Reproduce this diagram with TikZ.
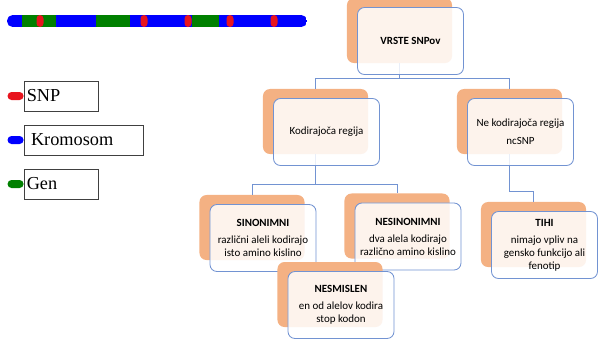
\documentclass[tikz,border=0pt]{standalone}
\usepackage{fontspec}
\setmainfont{Carlito}
\newfontfamily\legendfont{Liberation Serif}
\usetikzlibrary{positioning}

\definecolor{plateorange}{RGB}{244,177,131}
\definecolor{frameblue}{RGB}{114,147,210}
\definecolor{chromblue}{RGB}{0,0,255}
\definecolor{genegreen}{RGB}{0,128,0}
\definecolor{snpred}{RGB}{232,20,30}

\tikzset{
  plate/.style={fill=plateorange, rounded corners=5pt, minimum width=2.625cm, minimum height=1.625cm, inner sep=0pt},
  card/.style={draw=frameblue, line width=0.6pt, fill=white, fill opacity=0.85, text opacity=1, rounded corners=5pt,
    minimum width=2.65cm, minimum height=1.675cm, align=center, font=\fontsize{7.8}{9.2}\selectfont},
  link/.style={draw=frameblue, line width=0.6pt},
  legendbox/.style={draw=black!75, line width=0.6pt, minimum height=0.75cm, align=left, inner xsep=2pt,
    font=\legendfont\fontsize{13}{15}\selectfont},
  pill/.style={rounded corners=2.8pt, minimum width=0.4cm, minimum height=0.2cm, inner sep=0pt}
}

\begin{document}
\begin{tikzpicture}[x=0.025cm, y=-0.025cm]
    \useasboundingbox (0,0) rectangle (605,338);

    % Chromosome bar
    \begin{scope}
        \clip[rounded corners=4pt] (7,15) rectangle (307,27);
        \fill[chromblue] (7,15) rectangle (307,27);
        \foreach \a/\b in {22/56, 96/130, 192/219}
            \fill[genegreen] (\a,15) rectangle (\b,27);
    \end{scope}
    \foreach \c in {40,144,188,230,274}
        \fill[snpred, rounded corners=2.5pt] (\c-3.5,15) rectangle (\c+3.5,27);

    % Legend
    \node[legendbox, text width=1.71cm] (snpL) at (61,96) {SNP};
    \node[legendbox, text width=2.835cm] (kromL) at (83.5,140) {\hspace{3pt}Kromosom};
    \node[legendbox, text width=1.71cm] (genL) at (61,184) {Gen};
    \node[pill, fill=snpred] (snpP) at ([xshift=-0.2cm]snpL.west) {};
    \node[pill, fill=chromblue] (kromP) at ([xshift=-0.2cm]kromL.west) {};
    \node[pill, fill=genegreen] (genP) at ([xshift=-0.2cm]genL.west) {};

    % Orange plates
    \node[plate] (vrsteP) at (399.5,30.5) {};
    \node[plate] (kodP) at (315.5,121.5) {};
    \node[plate] (neP) at (509.5,121.5) {};
    \node[plate] (sinP) at (252,227.5) {};
    \node[plate] (nesP) at (397,226) {};
    \node[plate] (tihiP) at (533.5,234.5) {};

    % Links
    \draw[link] (vrsteP.south) -- ++(0,15) coordinate (vrsteJ) -| (kodP.north);
    \draw[link] (vrsteJ) -| (neP.north);
    \draw[link] (kodP.south) -- ++(0,30) coordinate (kodJ) -| (sinP.north);
    \draw[link] (kodJ) -| (nesP.north);
    \draw[link] (neP.south) -- ++(0,37) -| (tihiP.north);

    % Cards
    \node[card] (vrsteC) at ([shift={(11,10.5)}]vrsteP) {\textbf{VRSTE SNPov}};
    \node[card] (kodC) at ([shift={(11,10.5)}]kodP) {Kodirajoča regija};
    \node[card] (neC) at ([shift={(11,10.5)}]neP) {Ne kodirajoča regija\\[3.5pt]ncSNP};
    \node[card] (sinC) at ([shift={(11,10.5)}]sinP) {\textbf{SINONIMNI}\\[3pt]različni aleli kodirajo\\isto amino kislino};
    \node[card] (nesC) at ([shift={(11,10.5)}]nesP) {\textbf{NESINONIMNI}\\[3pt]dva alela kodirajo\\različno amino kislino};
    \node[card] (tihiC) at ([shift={(11,10.5)}]tihiP) {\textbf{TIHI}\\[3pt]nimajo vpliv na\\gensko funkcijo ali\\fenotip};

    % Nonsense box on top
    \node[plate] (nesmP) at (330,294.5) {};
    \node[card] (nesmC) at ([shift={(11,10.5)}]nesmP) {\textbf{NESMISLEN}\\[3pt]en od alelov kodira\\stop kodon};
\end{tikzpicture}
\end{document}
